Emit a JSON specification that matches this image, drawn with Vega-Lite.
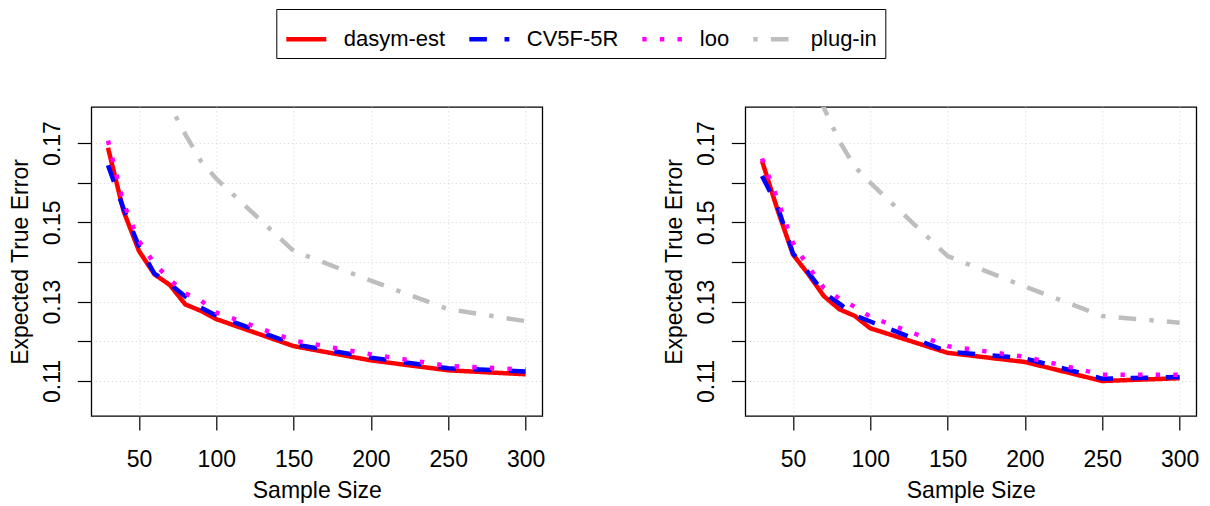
{
  "$schema": "https://vega.github.io/schema/vega-lite/v6.json",
  "padding": {"left": 8.3, "top": 8, "right": 4, "bottom": 2},
  "background": "white",
  "spacing": 116,
  "datasets": {
    "d": [
      {"panel": "L", "series": "dasym-est", "n": 30, "error": 0.1688},
      {"panel": "L", "series": "dasym-est", "n": 40, "error": 0.1529},
      {"panel": "L", "series": "dasym-est", "n": 50, "error": 0.1428},
      {"panel": "L", "series": "dasym-est", "n": 60, "error": 0.1369},
      {"panel": "L", "series": "dasym-est", "n": 70, "error": 0.1342},
      {"panel": "L", "series": "dasym-est", "n": 80, "error": 0.1293},
      {"panel": "L", "series": "dasym-est", "n": 90, "error": 0.1277},
      {"panel": "L", "series": "dasym-est", "n": 100, "error": 0.1256},
      {"panel": "L", "series": "dasym-est", "n": 150, "error": 0.1188},
      {"panel": "L", "series": "dasym-est", "n": 200, "error": 0.1152},
      {"panel": "L", "series": "dasym-est", "n": 250, "error": 0.1127},
      {"panel": "L", "series": "dasym-est", "n": 300, "error": 0.1117},
      {"panel": "L", "series": "CV5F-5R", "n": 30, "error": 0.1644},
      {"panel": "L", "series": "CV5F-5R", "n": 40, "error": 0.1535},
      {"panel": "L", "series": "CV5F-5R", "n": 50, "error": 0.1440},
      {"panel": "L", "series": "CV5F-5R", "n": 60, "error": 0.1371},
      {"panel": "L", "series": "CV5F-5R", "n": 70, "error": 0.1345},
      {"panel": "L", "series": "CV5F-5R", "n": 80, "error": 0.1313},
      {"panel": "L", "series": "CV5F-5R", "n": 90, "error": 0.1285},
      {"panel": "L", "series": "CV5F-5R", "n": 100, "error": 0.1265},
      {"panel": "L", "series": "CV5F-5R", "n": 150, "error": 0.1193},
      {"panel": "L", "series": "CV5F-5R", "n": 200, "error": 0.1159},
      {"panel": "L", "series": "CV5F-5R", "n": 250, "error": 0.1132},
      {"panel": "L", "series": "CV5F-5R", "n": 300, "error": 0.1124},
      {"panel": "L", "series": "loo", "n": 30, "error": 0.1706},
      {"panel": "L", "series": "loo", "n": 40, "error": 0.1549},
      {"panel": "L", "series": "loo", "n": 50, "error": 0.1453},
      {"panel": "L", "series": "loo", "n": 60, "error": 0.1396},
      {"panel": "L", "series": "loo", "n": 70, "error": 0.1356},
      {"panel": "L", "series": "loo", "n": 80, "error": 0.1321},
      {"panel": "L", "series": "loo", "n": 90, "error": 0.1303},
      {"panel": "L", "series": "loo", "n": 100, "error": 0.1273},
      {"panel": "L", "series": "loo", "n": 150, "error": 0.1202},
      {"panel": "L", "series": "loo", "n": 200, "error": 0.1167},
      {"panel": "L", "series": "loo", "n": 250, "error": 0.1138},
      {"panel": "L", "series": "loo", "n": 300, "error": 0.1129},
      {"panel": "L", "series": "plug-in", "n": 30, "error": 0.235},
      {"panel": "L", "series": "plug-in", "n": 40, "error": 0.214},
      {"panel": "L", "series": "plug-in", "n": 50, "error": 0.199},
      {"panel": "L", "series": "plug-in", "n": 60, "error": 0.1885},
      {"panel": "L", "series": "plug-in", "n": 70, "error": 0.1795},
      {"panel": "L", "series": "plug-in", "n": 80, "error": 0.1722},
      {"panel": "L", "series": "plug-in", "n": 90, "error": 0.1655},
      {"panel": "L", "series": "plug-in", "n": 100, "error": 0.1610},
      {"panel": "L", "series": "plug-in", "n": 150, "error": 0.1428},
      {"panel": "L", "series": "plug-in", "n": 200, "error": 0.1353},
      {"panel": "L", "series": "plug-in", "n": 250, "error": 0.1281},
      {"panel": "L", "series": "plug-in", "n": 300, "error": 0.1251},
      {"panel": "R", "series": "dasym-est", "n": 30, "error": 0.1655},
      {"panel": "R", "series": "dasym-est", "n": 40, "error": 0.1532},
      {"panel": "R", "series": "dasym-est", "n": 50, "error": 0.1419},
      {"panel": "R", "series": "dasym-est", "n": 60, "error": 0.1369},
      {"panel": "R", "series": "dasym-est", "n": 70, "error": 0.1314},
      {"panel": "R", "series": "dasym-est", "n": 80, "error": 0.1281},
      {"panel": "R", "series": "dasym-est", "n": 90, "error": 0.1264},
      {"panel": "R", "series": "dasym-est", "n": 100, "error": 0.1233},
      {"panel": "R", "series": "dasym-est", "n": 150, "error": 0.1171},
      {"panel": "R", "series": "dasym-est", "n": 200, "error": 0.1148},
      {"panel": "R", "series": "dasym-est", "n": 250, "error": 0.1100},
      {"panel": "R", "series": "dasym-est", "n": 300, "error": 0.1107},
      {"panel": "R", "series": "CV5F-5R", "n": 30, "error": 0.1617},
      {"panel": "R", "series": "CV5F-5R", "n": 40, "error": 0.1541},
      {"panel": "R", "series": "CV5F-5R", "n": 50, "error": 0.1422},
      {"panel": "R", "series": "CV5F-5R", "n": 60, "error": 0.1373},
      {"panel": "R", "series": "CV5F-5R", "n": 70, "error": 0.1322},
      {"panel": "R", "series": "CV5F-5R", "n": 80, "error": 0.1295},
      {"panel": "R", "series": "CV5F-5R", "n": 90, "error": 0.1266},
      {"panel": "R", "series": "CV5F-5R", "n": 100, "error": 0.1250},
      {"panel": "R", "series": "CV5F-5R", "n": 150, "error": 0.1174},
      {"panel": "R", "series": "CV5F-5R", "n": 200, "error": 0.1157},
      {"panel": "R", "series": "CV5F-5R", "n": 250, "error": 0.1106},
      {"panel": "R", "series": "CV5F-5R", "n": 300, "error": 0.1110},
      {"panel": "R", "series": "loo", "n": 30, "error": 0.1661},
      {"panel": "R", "series": "loo", "n": 40, "error": 0.1558},
      {"panel": "R", "series": "loo", "n": 50, "error": 0.1448},
      {"panel": "R", "series": "loo", "n": 60, "error": 0.1388},
      {"panel": "R", "series": "loo", "n": 70, "error": 0.1335},
      {"panel": "R", "series": "loo", "n": 80, "error": 0.1308},
      {"panel": "R", "series": "loo", "n": 90, "error": 0.1287},
      {"panel": "R", "series": "loo", "n": 100, "error": 0.1262},
      {"panel": "R", "series": "loo", "n": 150, "error": 0.1188},
      {"panel": "R", "series": "loo", "n": 200, "error": 0.1161},
      {"panel": "R", "series": "loo", "n": 250, "error": 0.1116},
      {"panel": "R", "series": "loo", "n": 300, "error": 0.1116},
      {"panel": "R", "series": "plug-in", "n": 30, "error": 0.232},
      {"panel": "R", "series": "plug-in", "n": 40, "error": 0.212},
      {"panel": "R", "series": "plug-in", "n": 50, "error": 0.197},
      {"panel": "R", "series": "plug-in", "n": 60, "error": 0.187},
      {"panel": "R", "series": "plug-in", "n": 70, "error": 0.1789},
      {"panel": "R", "series": "plug-in", "n": 80, "error": 0.1705},
      {"panel": "R", "series": "plug-in", "n": 90, "error": 0.1640},
      {"panel": "R", "series": "plug-in", "n": 100, "error": 0.1600},
      {"panel": "R", "series": "plug-in", "n": 150, "error": 0.1415},
      {"panel": "R", "series": "plug-in", "n": 200, "error": 0.1338},
      {"panel": "R", "series": "plug-in", "n": 250, "error": 0.1264},
      {"panel": "R", "series": "plug-in", "n": 300, "error": 0.1247}
    ]
  },
  "config": {
    "font": "Liberation Sans",
    "view": {"stroke": "black", "strokeWidth": 1.3},
    "axis": {
      "domain": false,
      "tickSize": 14,
      "tickColor": "black",
      "tickWidth": 1.2,
      "labelFont": "Liberation Sans",
      "labelFontSize": 23,
      "labelColor": "black",
      "labelOverlap": false,
      "labelFlush": false,
      "titleFont": "Liberation Sans",
      "titleFontSize": 23,
      "titleFontWeight": "normal",
      "titleColor": "black",
      "grid": true,
      "gridColor": "#D3D3D3",
      "gridDash": [1, 3],
      "gridWidth": 1
    },
    "legend": {
      "labelFont": "Liberation Sans",
      "labelFontSize": 22,
      "labelColor": "black",
      "symbolType": "stroke",
      "symbolSize": 1600,
      "symbolStrokeWidth": 4.5,
      "labelOffset": 15,
      "columnPadding": 14,
      "padding": 7.5,
      "strokeColor": "black",
      "direction": "horizontal",
      "columns": 4
    }
  },
  "hconcat": [
    {
      "width": 451,
      "height": 309,
      "data": {"name": "d"},
      "transform": [{"filter": "datum.panel == 'L'"}],
      "mark": {"type": "line", "clip": true, "strokeWidth": 4.5},
      "encoding": {
        "x": {
          "field": "n", "type": "quantitative",
          "scale": {"domain": [19.2, 310.8], "nice": false, "zero": false},
          "axis": {"values": [50, 100, 150, 200, 250, 300], "labelBaseline": "alphabetic", "labelPadding": 36.7, "title": "Sample Size", "titleBaseline": "alphabetic", "titleAlign": "center", "titleX": 225.5, "titleY": 81.7}
        },
        "y": {
          "field": "error", "type": "quantitative",
          "scale": {"domain": [0.10118, 0.17908], "nice": false, "zero": false},
          "axis": {"values": [0.11, 0.12, 0.13, 0.14, 0.15, 0.16, 0.17], "format": ".2f", "labelExpr": "round(datum.value*100) % 2 == 1 ? datum.label : ''", "labelAngle": -90, "labelAlign": "center", "labelBaseline": "alphabetic", "labelPadding": 18, "title": "Expected True Error", "titleAngle": -90, "titleBaseline": "alphabetic", "titleAlign": "center", "titleX": -64, "titleY": 154.5}
        },
        "color": {
          "field": "series", "type": "nominal",
          "scale": {"domain": ["dasym-est", "CV5F-5R", "loo", "plug-in"], "range": ["#FF0000", "#0000FF", "#FF00FF", "#BEBEBE"]},
          "legend": {"title": null, "orient": "none", "legendX": 185, "legendY": -98}
        },
        "strokeDash": {
          "field": "series", "type": "nominal",
          "scale": {"domain": ["dasym-est", "CV5F-5R", "loo", "plug-in"], "range": [[1, 0], [17.6, 17.6], [4.4, 13.2], [4.4, 13.2, 17.6, 13.2]]},
          "legend": {"title": null, "orient": "none", "legendX": 185, "legendY": -98}
        }
      }
    },
    {
      "width": 451,
      "height": 309,
      "data": {"name": "d"},
      "transform": [{"filter": "datum.panel == 'R'"}],
      "mark": {"type": "line", "clip": true, "strokeWidth": 4.5},
      "encoding": {
        "x": {
          "field": "n", "type": "quantitative",
          "scale": {"domain": [19.2, 310.8], "nice": false, "zero": false},
          "axis": {"values": [50, 100, 150, 200, 250, 300], "labelBaseline": "alphabetic", "labelPadding": 36.7, "title": "Sample Size", "titleBaseline": "alphabetic", "titleAlign": "center", "titleX": 225.5, "titleY": 81.7}
        },
        "y": {
          "field": "error", "type": "quantitative",
          "scale": {"domain": [0.10118, 0.17908], "nice": false, "zero": false},
          "axis": {"values": [0.11, 0.12, 0.13, 0.14, 0.15, 0.16, 0.17], "format": ".2f", "labelExpr": "round(datum.value*100) % 2 == 1 ? datum.label : ''", "labelAngle": -90, "labelAlign": "center", "labelBaseline": "alphabetic", "labelPadding": 18, "title": "Expected True Error", "titleAngle": -90, "titleBaseline": "alphabetic", "titleAlign": "center", "titleX": -64, "titleY": 154.5}
        },
        "color": {
          "field": "series", "type": "nominal",
          "scale": {"domain": ["dasym-est", "CV5F-5R", "loo", "plug-in"], "range": ["#FF0000", "#0000FF", "#FF00FF", "#BEBEBE"]},
          "legend": {"title": null, "orient": "none", "legendX": 185, "legendY": -98}
        },
        "strokeDash": {
          "field": "series", "type": "nominal",
          "scale": {"domain": ["dasym-est", "CV5F-5R", "loo", "plug-in"], "range": [[1, 0], [17.6, 17.6], [4.4, 13.2], [4.4, 13.2, 17.6, 13.2]]},
          "legend": {"title": null, "orient": "none", "legendX": 185, "legendY": -98}
        }
      }
    }
  ]
}
